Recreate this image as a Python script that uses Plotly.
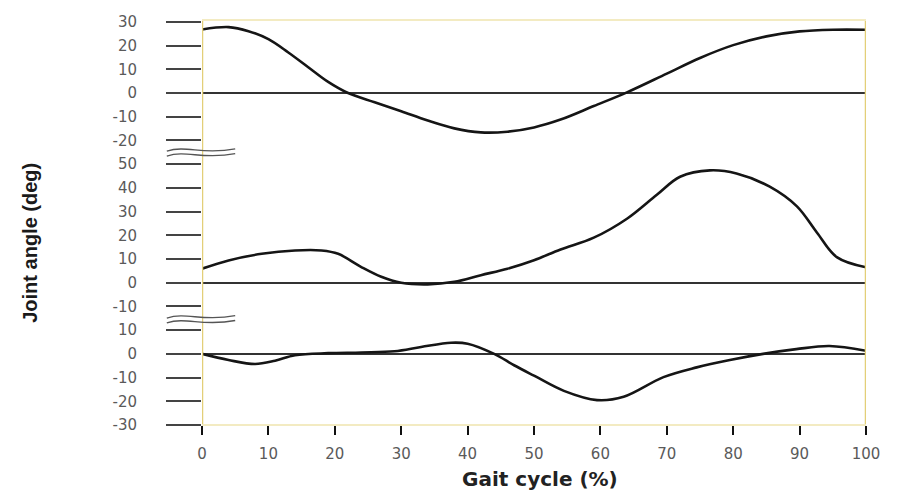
import plotly.graph_objects as go
from plotly.subplots import make_subplots

# Gait cycle (%) sample points and joint angles (deg)
hip_x = [0, 4, 7, 10, 13, 16, 19, 22, 26, 30, 34, 38, 42, 46, 50, 54, 59, 64, 70, 75, 80, 85, 90, 95, 100]
hip_y = [26.8, 27.8, 26.1, 22.7, 17.1, 10.9, 4.7, 0.0, -3.9, -7.7, -11.6, -14.9, -16.6, -16.3, -14.5,
         -11.2, -5.5, 0.3, 8.2, 14.8, 20.2, 23.9, 26.0, 26.7, 26.7]

knee_x = [0, 4, 9, 14, 18, 20.5, 24, 27, 30, 34, 38, 42, 46, 50, 54, 59, 64, 68.5, 72, 76.5, 80.5,
          85.5, 89.6, 92.6, 95.6, 100]
knee_y = [5.9, 9.4, 12.2, 13.6, 13.6, 12.2, 6.6, 2.5, 0.0, -0.7, 0.4, 3.2, 5.9, 9.5, 14.0, 19.0, 27.0,
          37.1, 44.7, 47.4, 46.1, 40.5, 32.2, 21.2, 10.8, 6.5]

ankle_x = [0, 4, 8, 11, 14, 19, 24, 29, 33, 37.5, 40, 44, 47, 50, 54.5, 59.5, 63.5, 69.5, 74.5, 79.5,
           84.5, 89.5, 94.5, 100]
ankle_y = [0.0, -2.6, -4.3, -2.9, -0.6, 0.3, 0.6, 1.1, 2.9, 4.7, 4.3, 0.0, -4.8, -9.2, -15.6, -19.5,
           -18.1, -9.8, -5.7, -2.6, 0.0, 2.0, 3.3, 1.3]

x_ticks = list(range(0, 101, 10))
hip_ticks = [-20, -10, 0, 10, 20, 30]
knee_ticks = [-10, 0, 10, 20, 30, 40, 50]
ankle_ticks = [-30, -20, -10, 0, 10]

hip_range = [-25, 30.8]
knee_range = [-15, 55]
ankle_range = [-30, 15]

fig = make_subplots(rows=3, cols=1, shared_xaxes=True, vertical_spacing=0,
                    row_heights=[hip_range[1] - hip_range[0],
                                 knee_range[1] - knee_range[0],
                                 ankle_range[1] - ankle_range[0]])

line_style = dict(color="#151515", width=2.6, shape="spline", smoothing=1.0)
fig.add_trace(go.Scatter(x=hip_x, y=hip_y, mode="lines", line=line_style, showlegend=False), row=1, col=1)
fig.add_trace(go.Scatter(x=knee_x, y=knee_y, mode="lines", line=line_style, showlegend=False), row=2, col=1)
fig.add_trace(go.Scatter(x=ankle_x, y=ankle_y, mode="lines", line=line_style, showlegend=False), row=3, col=1)

tick_font = dict(family="DejaVu Sans", size=15, color="#5a5a5a")
yax = dict(showgrid=False, zeroline=True, zerolinecolor="#333333", zerolinewidth=1.5,
           ticks="outside", ticklen=35, tickwidth=1.5, tickcolor="#444444",
           tickfont=tick_font, showline=False, ticklabelstandoff=26, ticklabeloverflow="allow")

fig.update_yaxes(range=hip_range, tickvals=hip_ticks, ticktext=[str(v) for v in hip_ticks],
                 row=1, col=1, **yax)
fig.update_yaxes(range=knee_range, tickvals=knee_ticks, ticktext=[str(v) for v in knee_ticks],
                 row=2, col=1, **yax)
fig.update_yaxes(range=ankle_range, tickvals=ankle_ticks, ticktext=[str(v) for v in ankle_ticks],
                 row=3, col=1, **yax)

fig.update_xaxes(range=[0, 100], showgrid=False, zeroline=False, showline=False)
fig.update_xaxes(tickvals=x_ticks, ticktext=[str(v) for v in x_ticks], ticks="outside", ticklen=9,
                 tickwidth=2, tickcolor="#111111", tickfont=tick_font, ticklabelstandoff=6, row=3, col=1)

# frame (yellowish)
frame_col = "#e3cf78"
fig.add_shape(type="line", xref="x", yref="paper", x0=0, x1=0, y0=0, y1=1,
              line=dict(color=frame_col, width=2.5), layer="above")
fig.add_shape(type="line", xref="x", yref="paper", x0=100, x1=100, y0=0, y1=1,
              line=dict(color=frame_col, width=2.5), layer="above")
fig.add_shape(type="line", xref="paper", yref="paper", x0=0, x1=1, y0=1, y1=1,
              line=dict(color="#f3ebc2", width=2))
fig.add_shape(type="line", xref="paper", yref="paper", x0=0, x1=1, y0=0, y1=0,
              line=dict(color="#f3ebc2", width=2))

# axis break marks
def squiggle(yc):
    x0, x1 = -0.053, 0.05
    paths = []
    for dy in (0.006, -0.006):
        y = yc + dy
        paths.append(f"M {x0},{y - 0.004} C {x0 + 0.03},{y + 0.012} {x1 - 0.05},{y - 0.014} {x1},{y + 0.002}")
    return paths

for yc in (0.674, 0.262):
    for p in squiggle(yc):
        fig.add_shape(type="path", xref="paper", yref="paper", path=p,
                      line=dict(color="#555555", width=1.3))

fig.add_annotation(text="Joint angle (deg)", xref="paper", yref="paper", x=-0.259, y=0.45,
                   textangle=-90, showarrow=False, xanchor="center", yanchor="middle",
                   font=dict(family="Liberation Sans", size=20, color="#1a1a1a", weight="bold"))
fig.add_annotation(text="Gait cycle (%)", xref="paper", yref="paper", x=0.509, y=-0.133,
                   showarrow=False, xanchor="center", yanchor="middle",
                   font=dict(family="DejaVu Sans", size=20, color="#222222", weight="bold"))

fig.update_layout(width=891, height=483, margin=dict(l=194, r=33, t=5, b=66),
                  plot_bgcolor="white", paper_bgcolor="white")

fig.write_html("out.html")
